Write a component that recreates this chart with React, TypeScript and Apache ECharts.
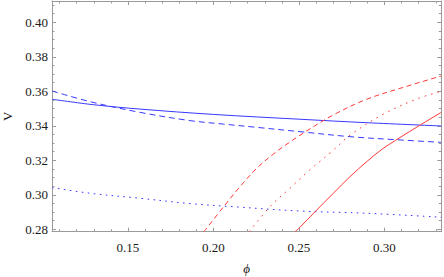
import React, { useEffect, useRef } from "react";
import * as echarts from "echarts";

// x values (phi) and V values
const blueSolidX = [0.1056, 0.13, 0.157, 0.2, 0.2506, 0.2896, 0.3332];
const blueSolidY = [0.3554, 0.3522, 0.3497, 0.3466, 0.3438, 0.3418, 0.3399];

const blueDashedX = [0.1056, 0.1278, 0.157, 0.1863, 0.2057, 0.2253, 0.2506, 0.2798, 0.3091, 0.3332];
const blueDashedY = [0.3602, 0.354, 0.3478, 0.343, 0.341, 0.3391, 0.3366, 0.3337, 0.3318, 0.3304];

const blueDottedX = [0.1056, 0.1278, 0.157, 0.1863, 0.2116, 0.2506, 0.2896, 0.3332];
const blueDottedY = [0.3042, 0.3009, 0.298, 0.2949, 0.2931, 0.2906, 0.2893, 0.287];

const redSolidX = [0.2477, 0.2506, 0.2594, 0.2701, 0.2798, 0.2896, 0.2984, 0.3091, 0.3198, 0.3332];
const redSolidY = [0.2786, 0.2812, 0.2902, 0.3009, 0.3105, 0.3192, 0.3263, 0.3332, 0.3398, 0.3478];

const redDashedX = [0.1944, 0.2057, 0.2155, 0.2253, 0.235, 0.2447, 0.2545, 0.2701, 0.2896, 0.3091, 0.3332];
const redDashedY = [0.2786, 0.2928, 0.3047, 0.3154, 0.3236, 0.3306, 0.337, 0.3463, 0.3554, 0.3617, 0.3689];

const redDottedX = [0.2209, 0.233, 0.2447, 0.2564, 0.2691, 0.2798, 0.2993, 0.3188, 0.3332];
const redDottedY = [0.2786, 0.2931, 0.3038, 0.3145, 0.325, 0.3345, 0.3467, 0.3555, 0.36];

const xMajorTicks = [0.15, 0.2, 0.25, 0.3];
const xMinorTicks = [0.11, 0.12, 0.13, 0.14, 0.16, 0.17, 0.18, 0.19, 0.21, 0.22, 0.23, 0.24, 0.26, 0.27, 0.28, 0.29, 0.31, 0.32, 0.33];
const yMajorTicks = [0.28, 0.3, 0.32, 0.34, 0.36, 0.38, 0.4];
const yMinorTicks = [0.285, 0.29, 0.295, 0.305, 0.31, 0.315, 0.325, 0.33, 0.335, 0.345, 0.35, 0.355, 0.365, 0.37, 0.375, 0.385, 0.39, 0.395, 0.405, 0.41];

const X_MIN = 0.10556;
const X_MAX = 0.33322;
const Y_MIN = 0.27861;
const Y_MAX = 0.41235;

const BLUE = "#3838ff";
const RED = "#ff3838";
const FRAME = "#9a9a9a";
const SERIF = "Liberation Serif";

function zip(xs: number[], ys: number[]) {
  return xs.map((x, i) => [x, ys[i]]);
}

export default function App() {
  const ref = useRef<HTMLDivElement>(null);
  useEffect(() => {
    if (!ref.current) return;
    const chart = echarts.init(ref.current, undefined, { renderer: "svg" });
    const labelFont = {
      fontFamily: SERIF,
      fontSize: 13,
      color: "#1a1a1a",
    };
    const mkX = (pos: string, ticks: number[], len: number, labels: boolean, line: boolean, extra: any = {}) => ({
      type: "value",
      position: pos,
      min: X_MIN,
      max: X_MAX,
      axisLine: { show: line, onZero: false, lineStyle: { color: FRAME, width: 1 } },
      axisTick: { show: true, inside: true, length: len, customValues: ticks, lineStyle: { color: FRAME, width: 1 } },
      axisLabel: labels
        ? { show: true, customValues: ticks, formatter: (v: number) => v.toFixed(2), margin: 9, ...labelFont }
        : { show: false },
      splitLine: { show: false },
      ...extra,
    });
    const mkY = (pos: string, ticks: number[], len: number, labels: boolean, line: boolean, extra: any = {}) => ({
      type: "value",
      position: pos,
      min: Y_MIN,
      max: Y_MAX,
      axisLine: { show: line, onZero: false, lineStyle: { color: FRAME, width: 1 } },
      axisTick: { show: true, inside: true, length: len, customValues: ticks, lineStyle: { color: FRAME, width: 1 } },
      axisLabel: labels
        ? { show: true, customValues: ticks, formatter: (v: number) => v.toFixed(2), margin: 4, ...labelFont }
        : { show: false },
      splitLine: { show: false },
      ...extra,
    });
    const line = (xs: number[], ys: number[], color: string, type: any) => ({
      type: "line",
      data: zip(xs, ys),
      xAxisIndex: 0,
      yAxisIndex: 0,
      showSymbol: false,
      smooth: 0.35,
      clip: true,
      lineStyle: { color, width: 1, type },
    });
    chart.setOption({
      animation: false,
      backgroundColor: "#ffffff",
      grid: { left: 52, top: 1, width: 389.3, height: 230.7, containLabel: false, outerBoundsMode: "none" },
      xAxis: [
        mkX("bottom", xMajorTicks, 4, true, true, {
          name: "\u03d5",
          nameLocation: "middle",
          nameGap: 30,
          nameTextStyle: { fontFamily: SERIF, fontStyle: "italic", fontSize: 13, color: "#1a1a1a" },
        }),
        mkX("bottom", xMinorTicks, 2.5, false, false),
        mkX("top", xMajorTicks, 4, false, true),
        mkX("top", xMinorTicks, 2.5, false, false),
      ],
      yAxis: [
        mkY("left", yMajorTicks, 4, true, true, {
          name: "V",
          nameLocation: "middle",
          nameGap: 37,
          nameRotate: 90,
          nameTextStyle: { fontFamily: SERIF, fontSize: 13, color: "#1a1a1a" },
        }),
        mkY("left", yMinorTicks, 2.5, false, false),
        mkY("right", yMajorTicks, 4, false, true),
        mkY("right", yMinorTicks, 2.5, false, false),
      ],
      series: [
        line(blueSolidX, blueSolidY, BLUE, "solid"),
        line(blueDashedX, blueDashedY, BLUE, [6, 4]),
        line(blueDottedX, blueDottedY, BLUE, [1.6, 4.4]),
        line(redSolidX, redSolidY, RED, "solid"),
        line(redDashedX, redDashedY, RED, [5, 3.5]),
        line(redDottedX, redDottedY, RED, [1.6, 5]),
      ],
    });
    return () => chart.dispose();
  }, []);
  return (
    <div
      ref={ref}
      style={{ position: "fixed", left: 0, top: 0, width: 444, height: 277, background: "#fff" }}
    />
  );
}
